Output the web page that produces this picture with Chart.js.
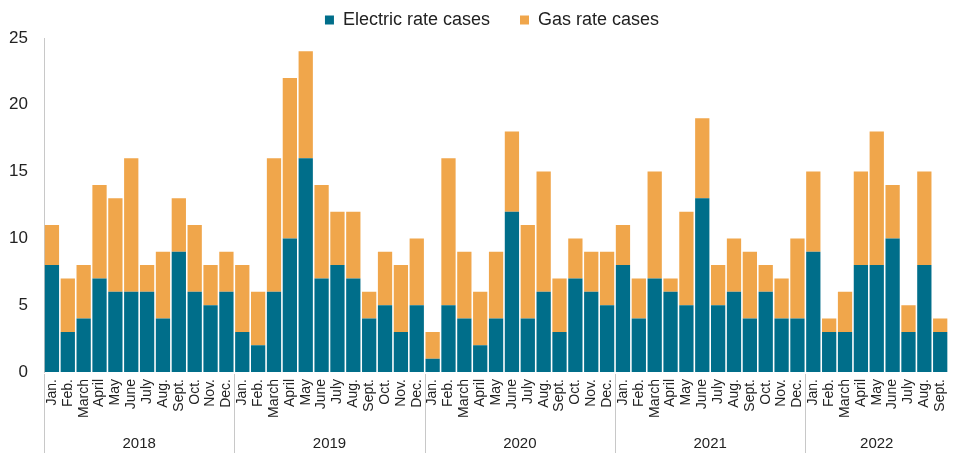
<!DOCTYPE html>
<html>
<head>
<meta charset="utf-8">
<script src="https://cdn.jsdelivr.net/npm/chart.js@4/dist/chart.umd.min.js"></script>
<style>
  html, body { margin: 0; padding: 0; background: #ffffff; }
  #wrap { width: 964px; height: 453px; }
</style>
</head>
<body>
<div id="wrap"><canvas id="c" width="964" height="453"></canvas></div>
<script>
const years = ['2018', '2019', '2020', '2021', '2022'];
const monthsFull = ['Jan.', 'Feb.', 'March', 'April', 'May', 'June', 'July', 'Aug.', 'Sept.', 'Oct.', 'Nov.', 'Dec.'];
const monthsPerYear = [12, 12, 12, 12, 9];

const electricCases = [
  8, 3, 4, 7, 6, 6, 6, 4, 9, 6, 5, 6,
  3, 2, 6, 10, 16, 7, 8, 7, 4, 5, 3, 5,
  1, 5, 4, 2, 4, 12, 4, 6, 3, 7, 6, 5,
  8, 4, 7, 6, 5, 13, 5, 6, 4, 6, 4, 4,
  9, 3, 3, 8, 8, 10, 3, 8, 3
];
const gasCases = [
  3, 4, 4, 7, 7, 10, 2, 5, 4, 5, 3, 3,
  5, 4, 10, 12, 8, 7, 4, 5, 2, 4, 5, 5,
  2, 11, 5, 4, 5, 6, 7, 9, 4, 3, 3, 4,
  3, 3, 8, 1, 7, 6, 3, 4, 5, 2, 3, 6,
  6, 1, 3, 7, 10, 4, 2, 7, 1
];
const yTicks = [0, 5, 10, 15, 20, 25];

const labels = [];
years.forEach((y, yi) => {
  for (let m = 0; m < monthsPerYear[yi]; m++) labels.push(monthsFull[m]);
});

const FONT = "'Liberation Sans', Arial, sans-serif";

const legendHeightPlugin = {
  id: 'legendHeight',
  beforeInit(chart) {
    const lg = chart.legend;
    if (lg) {
      const origFit = lg.fit;
      lg.fit = function () { origFit.call(this); this.height = 57; };
      const origDraw = lg.draw;
      lg.draw = function () {
        const ctx = this.ctx;
        ctx.save();
        ctx.translate(10, 0);
        origDraw.apply(this, arguments);
        ctx.restore();
      };
    }
  }
};

const yearPlugin = {
  id: 'yearGroups',
  afterDraw(chart) {
    const ctx = chart.ctx;
    const xs = chart.scales.x;
    const area = chart.chartArea;
    const step = xs.getPixelForValue(1) - xs.getPixelForValue(0);
    ctx.save();
    ctx.strokeStyle = '#c8c8c8';
    ctx.lineWidth = 1;
    ctx.fillStyle = '#222';
    ctx.font = "15px " + FONT;
    ctx.textAlign = 'center';
    ctx.textBaseline = 'middle';
    let start = 0;
    years.forEach((y, yi) => {
      const n = monthsPerYear[yi];
      const x0 = xs.getPixelForValue(start) - step / 2;
      const x1 = xs.getPixelForValue(start + n - 1) + step / 2;
      const lx = Math.round(x0) + 0.5;
      ctx.beginPath();
      ctx.moveTo(lx, area.bottom + 2);
      ctx.lineTo(lx, 453);
      ctx.stroke();
      ctx.fillText(y, (x0 + x1) / 2, 444);
      start += n;
    });
    ctx.restore();
  }
};

new Chart(document.getElementById('c'), {
  type: 'bar',
  data: {
    labels: labels,
    datasets: [
      { label: 'Electric rate cases', data: electricCases, backgroundColor: '#006e8a',
        borderWidth: 0, barPercentage: 0.9, categoryPercentage: 1.0 },
      { label: 'Gas rate cases', data: gasCases, backgroundColor: '#f0a64b',
        borderWidth: 0, barPercentage: 0.9, categoryPercentage: 1.0 }
    ]
  },
  options: {
    responsive: false,
    animation: false,
    devicePixelRatio: 1,
    layout: { padding: { top: -19, right: 0, bottom: 0, left: 0 } },
    plugins: {
      legend: {
        position: 'top',
        align: 'center',
        labels: {
          boxWidth: 9, boxHeight: 9, padding: 30,
          color: '#222',
          font: { family: FONT, size: 18 }
        }
      },
      tooltip: { enabled: false }
    },
    scales: {
      x: {
        stacked: true,
        offset: true,
        grid: { display: false, drawTicks: false },
        border: { display: false },
        ticks: {
          autoSkip: false, maxRotation: 90, minRotation: 90,
          padding: 7, color: '#222',
          font: { family: FONT, size: 14 }
        },
        afterFit(scale) { scale.height = 81; }
      },
      y: {
        stacked: true,
        min: 0, max: 25,
        grid: { display: false, drawTicks: false },
        border: { display: true, color: '#c8c8c8', width: 1 },
        ticks: {
          stepSize: 5, padding: 16, color: '#222',
          font: { family: FONT, size: 17 },
          callback: (v) => yTicks.includes(v) ? String(v) : ''
        },
        afterFit(scale) { scale.width = 44; }
      }
    }
  },
  plugins: [legendHeightPlugin, yearPlugin]
});
</script>
</body>
</html>
